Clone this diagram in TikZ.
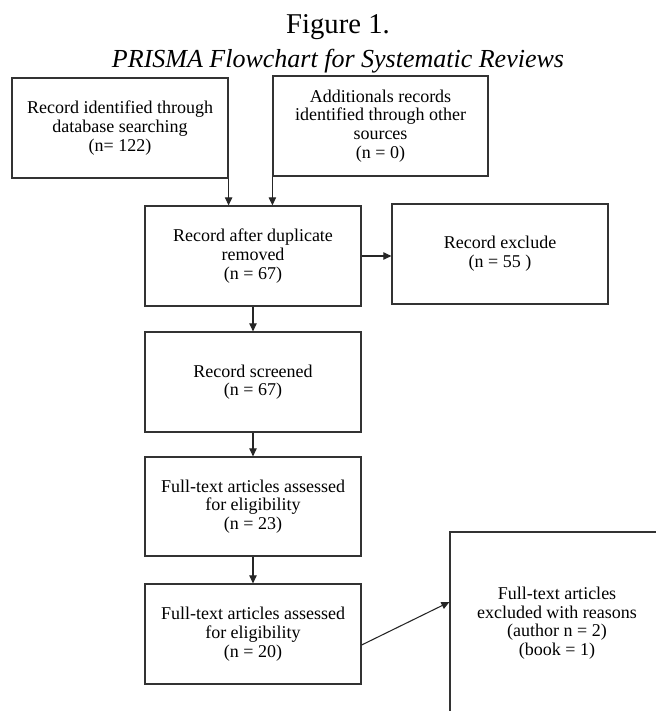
\documentclass[tikz,border=0pt]{standalone}
\usepackage{fontspec}
\setmainfont{Liberation Serif}
\usetikzlibrary{arrows.meta}
\begin{document}
\begin{tikzpicture}[x=0.75pt,y=-0.75pt,
  box/.style={draw=black!80,line width=0.9pt,rectangle,inner sep=0pt,
    minimum width=162pt,minimum height=75pt,align=center,
    font=\fontsize{13.5}{14}\selectfont},
  conn/.style={draw=black!85,line width=0.8pt,-{Triangle[length=6pt,width=5.5pt]}}]
\clip (0,0) rectangle (656,711);
\fill[white] (0,0) rectangle (656,711);
\node[anchor=base,font=\fontsize{21.5}{22}\selectfont] (t1) at (338,33) {Figure 1.};
\node[anchor=base,font=\fontsize{19.5}{20}\selectfont\itshape] (t2) at (338,67) {PRISMA Flowchart for Systematic Reviews};
\node[box] (b1) at (120,128) {Record identified through\\database searching\\(n= 122)};
\node[box,minimum width=161.25pt] (b2) at (380.5,126) {Additionals records\\identified through other\\sources\\(n = 0)};
\node[box] (b3) at (253,256) {Record after duplicate\\removed\\(n = 67)};
\node[box] (b4) at (500,254) {Record exclude\\(n = 55 )};
\node[box] (b5) at (253,382) {Record screened\\(n = 67)};
\node[box,minimum height=74.25pt] (b6) at (253,506.5) {Full-text articles assessed\\for eligibility\\(n = 23)};
\node[box] (b7) at (253,634) {Full-text articles assessed\\for eligibility\\(n = 20)};
\node[box,minimum width=160.5pt,minimum height=136.5pt] (b8) at (557,623) {Full-text articles\\excluded with reasons\\(author n = 2)\\(book = 1)};
\draw[conn] (b1.south east) -- (b1.south east |- b3.north);
\draw[conn] (b2.south west) -- (b2.south west |- b3.north);
\draw[conn] (b3.east) -- (b3.east -| b4.west);
\draw[conn] (b3.south) -- (b5.north);
\draw[conn] (b5.south) -- (b6.north);
\draw[conn] (b6.south) -- (b7.north);
\draw[conn] ([yshift=-8.25pt]b7.east) -- ([yshift=15.75pt]b8.west);
\end{tikzpicture}
\end{document}
